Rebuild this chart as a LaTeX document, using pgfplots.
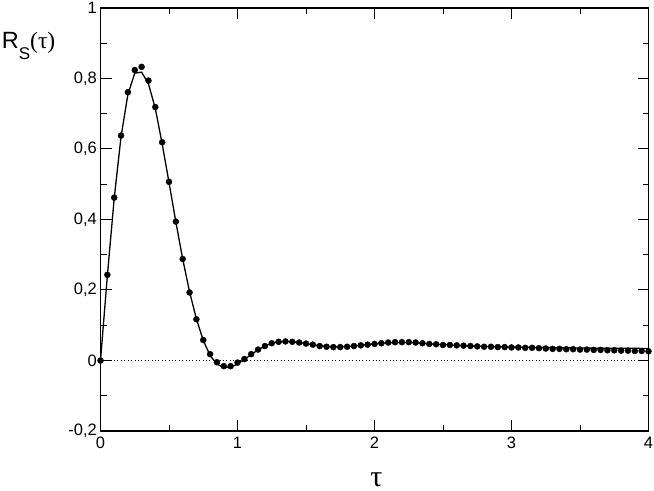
\documentclass[border=0pt]{standalone}
\usepackage{pgfplots}
\pgfplotsset{compat=1.18}
\usepackage{pgfplotstable}
\usepackage{fontspec}
\setmainfont{Liberation Sans}
\newfontfamily\seriff{Liberation Serif}

\pgfplotstableread{
x y
0 0
0.05 0.243
0.1 0.462
0.15 0.638
0.2 0.761
0.25 0.824
0.3 0.833
0.35 0.794
0.4 0.719
0.45 0.619
0.5 0.507
0.55 0.394
0.6 0.288
0.65 0.193
0.7 0.117
0.75 0.058
0.8 0.018
0.85 -0.005
0.9 -0.016
0.95 -0.016
1.0 -0.006
1.05 0.004
1.1 0.018
1.15 0.031
1.2 0.041
1.25 0.049
1.3 0.053
1.35 0.054
1.4 0.053
1.45 0.051
1.5 0.048
1.55 0.045
1.6 0.041
1.65 0.039
1.7 0.038
1.75 0.038
1.8 0.039
1.85 0.041
1.9 0.043
1.95 0.045
2.0 0.047
2.05 0.049
2.1 0.051
2.15 0.052
2.2 0.052
2.25 0.052
2.3 0.051
2.35 0.049
2.4 0.047
2.45 0.046
2.5 0.044
2.55 0.044
2.6 0.043
2.65 0.042
2.7 0.041
2.75 0.040
2.8 0.039
2.85 0.039
2.9 0.038
2.95 0.038
3.0 0.037
3.05 0.037
3.1 0.036
3.15 0.036
3.2 0.035
3.25 0.034
3.3 0.033
3.35 0.033
3.4 0.032
3.45 0.032
3.5 0.031
3.55 0.031
3.6 0.030
3.65 0.030
3.7 0.029
3.75 0.029
3.8 0.028
3.85 0.028
3.9 0.027
3.95 0.027
4.0 0.026
}\pts

\pgfplotstableread{
x y
0 0
0.05 0.240
0.1 0.460
0.15 0.635
0.2 0.755
0.25 0.815
0.3 0.818
0.35 0.785
0.4 0.715
0.45 0.615
0.5 0.505
0.55 0.393
0.6 0.288
0.65 0.195
0.7 0.118
0.75 0.057
0.8 0.014
0.85 -0.010
0.9 -0.020
0.95 -0.019
1.0 -0.010
1.05 0.003
1.1 0.017
1.15 0.030
1.2 0.041
1.25 0.049
1.3 0.053
1.35 0.054
1.4 0.053
1.45 0.051
1.5 0.048
1.55 0.045
1.6 0.042
1.65 0.040
1.7 0.039
1.75 0.039
1.8 0.040
1.85 0.041
1.9 0.043
1.95 0.045
2.0 0.047
2.05 0.049
2.1 0.050
2.15 0.051
2.2 0.051
2.25 0.051
2.3 0.050
2.35 0.049
2.4 0.047
2.45 0.046
2.5 0.045
2.6 0.043
2.7 0.041
2.8 0.040
2.9 0.039
3.0 0.038
3.2 0.037
3.4 0.036
3.6 0.035
3.8 0.035
4.0 0.034
}\curve

\begin{document}
\begin{tikzpicture}[x=1bp,y=1bp]
\useasboundingbox (-100.5,-60) rectangle (553.5,431);
\begin{axis}[
  at={(0,0)}, anchor=south west,
  scale only axis, width=548bp, height=423bp,
  xmin=0, xmax=4, ymin=-0.2, ymax=1,
  xtick={0,1,2,3,4}, ytick={-0.2,0,0.2,0.4,0.6,0.8,1},
  minor x tick num=1, minor y tick num=1,
  tick align=inside,
  major tick length=11bp, minor tick length=6bp,
  axis line style={line width=1.2bp},
  every tick/.style={black, line width=1bp},
  /pgf/number format/assume math mode=true,
  /pgf/number format/use comma,
  /pgf/number format/fixed,
  tick label style={font=\fontsize{16.5bp}{18bp}\selectfont},
  yticklabel style={inner sep=0pt, xshift=-3.5bp},
  xticklabel style={inner sep=0pt, yshift=-6bp},
  clip=false,
]
\addplot[black, line width=0.8bp, dash pattern=on 1bp off 2.4bp] coordinates {(0,0) (4,0)};
\addplot[black, line width=1.3bp, mark=none] table[x=x,y=y] {\curve};
\addplot[only marks, mark=*, mark size=3bp, black] table[x=x,y=y] {\pts};
\end{axis}
\node[anchor=base west, inner sep=0pt] at (-98.8,382.7)
  {\fontsize{23.5bp}{26bp}\selectfont R\raisebox{-11bp}{\fontsize{17bp}{18bp}\selectfont S}{\seriff(τ)}};
\node[anchor=base, inner sep=0pt] at (276,-55.5)
  {\fontsize{30bp}{32bp}\selectfont\seriff τ};
\end{tikzpicture}
\end{document}
